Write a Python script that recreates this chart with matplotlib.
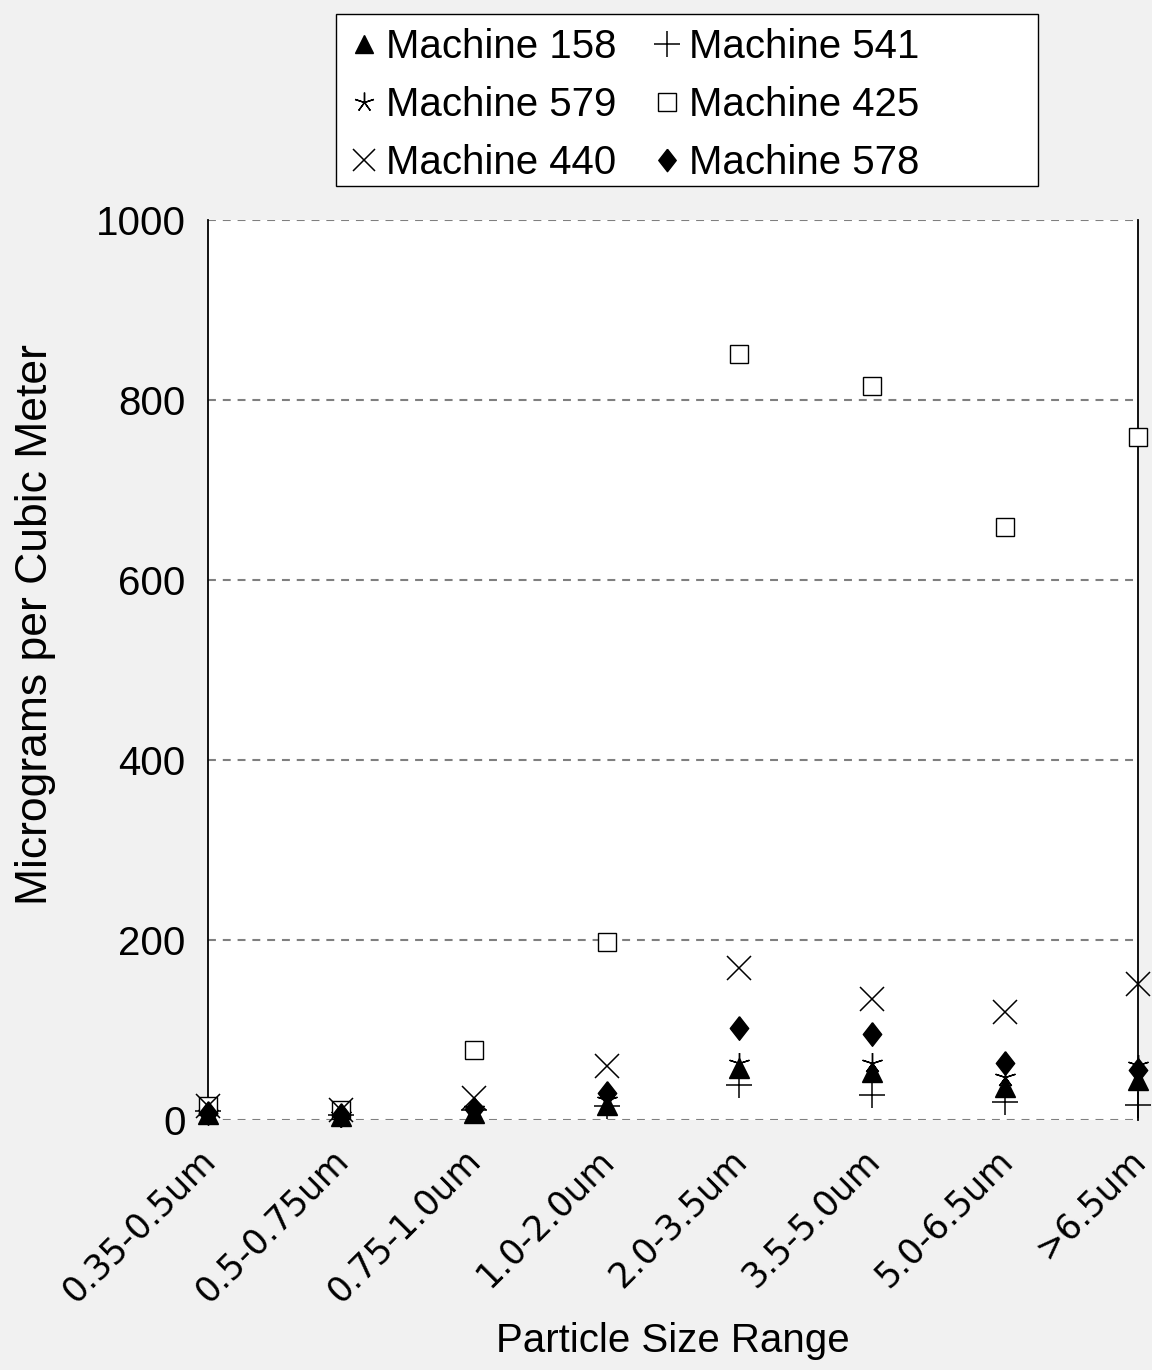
import matplotlib
matplotlib.use("Agg")
import matplotlib.pyplot as plt
from matplotlib.patches import Rectangle
from matplotlib.transforms import ScaledTranslation
import numpy as np

# particle size ranges
categories = ["0.35-0.5um", "0.5-0.75um", "0.75-1.0um", "1.0-2.0um",
              "2.0-3.5um", "3.5-5.0um", "5.0-6.5um", ">6.5um"]

# micrograms per cubic meter
m158 = [7, 4, 8, 17, 58, 53, 37, 44]
m541 = [10, 6, 11, 16, 39, 28, 20, 17]
m579 = [8, 5, 12, 22, 63, 63, 48, 61]
m425 = [15, 11, 78, 198, 851, 816, 659, 759]
m440 = [15, 11, 24, 60, 169, 134, 120, 151]
m578 = [8, 5, 12, 30, 102, 96, 63, 55]

plt.rcParams["font.family"] = ["Liberation Sans", "DejaVu Sans"]
fs = 29

fig = plt.figure(figsize=(11.52, 13.7), dpi=100, facecolor="#f1f1f1")
ax = fig.add_axes([0.1806, 0.1825, 0.8072, 0.6569])
ax.set_facecolor("white")

x = np.arange(len(categories))
diamond = [(0, 1), (0.78, 0), (0, -1), (-0.78, 0), (0, 1)]

common = dict(linestyle="none", color="black", clip_on=False, zorder=3)
h158, = ax.plot(x, m158, marker="^", markersize=14, label="Machine 158", **common)
h541, = ax.plot(x, m541, marker="+", markersize=19, markeredgewidth=1.1,
                label="Machine 541", **common)
h579, = ax.plot(x, m579, marker=(5, 2, 0), markersize=15, markeredgewidth=1.0,
                label="Machine 579", **common)
h425, = ax.plot(x, m425, marker="s", markersize=13, markerfacecolor="white",
                markeredgewidth=1.0, label="Machine 425", **common)
h440, = ax.plot(x, m440, marker="x", markersize=17, markeredgewidth=1.1,
                label="Machine 440", **common)
h578, = ax.plot(x, m578, marker=diamond, markersize=17, label="Machine 578", **common)

ax.set_xlim(0, len(categories) - 1)
ax.set_ylim(0, 1000)
ax.set_yticks(np.arange(0, 1001, 200))
ax.set_xticks(x)
ax.set_xticklabels(categories, rotation=45, ha="right", va="center",
                   rotation_mode="anchor", family="DejaVu Sans", fontsize=25)
ax.tick_params(axis="x", length=0, pad=28)
ax.tick_params(axis="y", length=0, pad=16, labelsize=fs)
shift = ScaledTranslation(2 / 100, 4 / 100, fig.dpi_scale_trans)
for lab in ax.get_xticklabels():
    lab.set_transform(lab.get_transform() + shift)

ax.grid(axis="y", color="#7f7f7f", linestyle=(0, (3.8, 3.3)), linewidth=1.5)
ax.set_axisbelow(True)
for side in ["top", "bottom"]:
    ax.spines[side].set_visible(False)
for side in ["left", "right"]:
    ax.spines[side].set_color("black")
    ax.spines[side].set_linewidth(1.3)

ax.set_xlabel("Particle Size Range", fontsize=fs)
ax.xaxis.set_label_coords(0.5, -0.224)
ax.set_ylabel("Micrograms per Cubic Meter", fontsize=32)
ax.yaxis.set_label_coords(-0.164, 0.55)

# legend box is wider than its entries
fig.patches.append(Rectangle((336 / 1152, 1 - 186 / 1370), 702 / 1152, 172 / 1370,
                             transform=fig.transFigure, facecolor="white",
                             edgecolor="black", linewidth=1.0, zorder=1))
leg = fig.legend(handles=[h158, h579, h440, h541, h425, h578], ncol=2,
                 loc="upper left", bbox_to_anchor=(336 / 1152, 1 - 14 / 1370),
                 fontsize=fs, frameon=False, borderaxespad=0, borderpad=0.35,
                 handlelength=0.7, handletextpad=0.2, columnspacing=0.9,
                 labelspacing=0.5, markerscale=0.95)

fig.savefig("out.png", dpi=100, facecolor=fig.get_facecolor())
